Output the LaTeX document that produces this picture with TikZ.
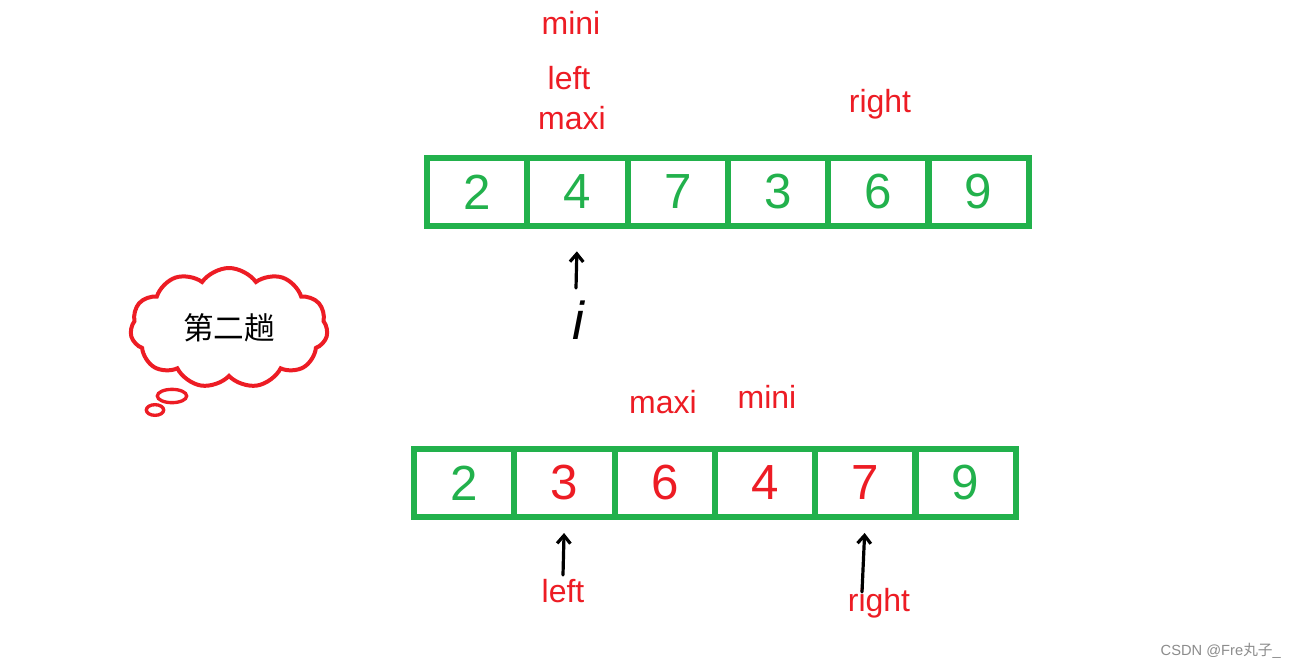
\documentclass[tikz,border=0pt]{standalone}
\usepackage{fontspec}
\setmainfont{Liberation Sans}
\newfontfamily\cjk{Noto Sans CJK SC}
\usetikzlibrary{shapes.symbols,shapes.geometric,arrows.meta}
\definecolor{pgreen}{RGB}{34,177,76}
\definecolor{pred}{RGB}{237,28,36}
\begin{document}
\begin{tikzpicture}[x=0.75pt,y=-0.75pt,
  cell/.style={draw=pgreen, line width=4.5pt, minimum width=75.2pt, minimum height=51pt, inner sep=0pt, outer sep=0pt, font=\fontsize{37}{37}\selectfont},
  lbl/.style={text=pred, font=\fontsize{24}{28}\selectfont, anchor=base, inner sep=0pt},
  arr/.style={line width=2.4pt, -{Straight Barb[length=6pt,width=10pt]}, line cap=round}]
\fill[white] (0,0) rectangle (1294,668);
\useasboundingbox (0,0) rectangle (1294,668);
% top row
\node[cell,text=pgreen] (t1) at (477.15,192) {2};
\node[cell,text=pgreen] (t2) at (577.45,192) {4};
\node[cell,text=pgreen] (t3) at (677.75,192) {7};
\node[cell,text=pgreen] (t4) at (778.05,192) {3};
\node[cell,text=pgreen] (t5) at (878.35,192) {6};
\node[cell,text=pgreen] (t6) at (978.65,192) {9};
% bottom row
\node[cell,text=pgreen] (b1) at (464.15,483) {2};
\node[cell,text=pred] (b2) at (564.45,483) {3};
\node[cell,text=pred] (b3) at (664.75,483) {6};
\node[cell,text=pred] (b4) at (765.05,483) {4};
\node[cell,text=pred] (b5) at (865.35,483) {7};
\node[cell,text=pgreen] (b6) at (965.65,483) {9};
% top labels
\node[lbl] (tmini) at (571,34) {mini};
\node[lbl] (tleft) at (569,89) {left};
\node[lbl] (tmaxi) at (572,129) {maxi};
\node[lbl] (tright) at (880,112) {right};
% bottom labels
\node[lbl] (bmaxi) at (663,413) {maxi};
\node[lbl] (bmini) at (767,408) {mini};
\node[lbl] (bleft) at (563,602) {left};
\node[lbl] (bright) at (879,611) {right};
% arrows
\node[font=\fontsize{40}{40}\selectfont\itshape] (i) at (578,320) {i};
\coordinate (itail) at (576,288);
\draw[arr, shorten >=19pt] (itail) -- (t2.south);
\coordinate (ltail) at (563,575);
\draw[arr, shorten >=12pt] (ltail) -- (b2.south);
\coordinate (rtail) at (862,592);
\draw[arr, shorten >=12pt] (rtail) -- (b5.south);
% cloud
\node[cloud, draw=pred, line width=3pt, cloud puffs=11, cloud puff arc=110, aspect=1.7,
  minimum width=148pt, minimum height=90pt, inner sep=0pt,
  font=\cjk\fontsize{23}{23}\selectfont] (cloud) at (229,328) {第二趟};
\node[ellipse, draw=pred, line width=2.5pt, minimum width=22pt, minimum height=10pt, inner sep=0pt] (bub1) at (172,396) {};
\node[ellipse, draw=pred, line width=2.5pt, minimum width=13pt, minimum height=8pt, inner sep=0pt] (bub2) at (155,410) {};
% watermark
\node[text=black!45, font=\fontsize{11}{13}\selectfont, anchor=east, inner sep=0pt] (wm) at (1281,651) {CSDN @Fre{\cjk 丸子}\_};
\end{tikzpicture}
\end{document}
